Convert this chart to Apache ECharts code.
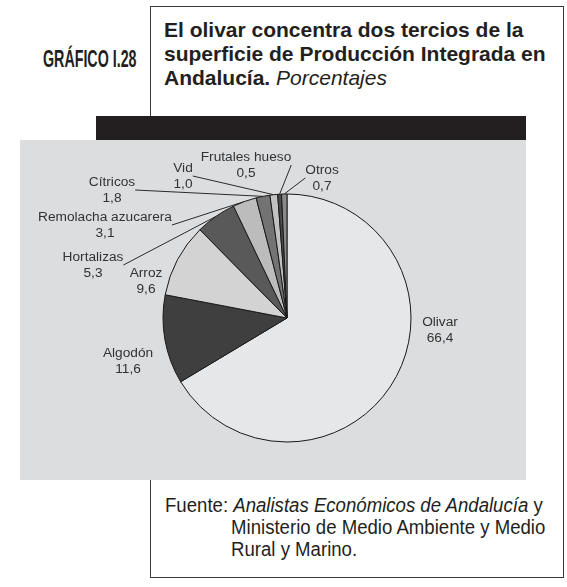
<html>
<head>
    <meta http-equiv="Content-Type" content="text/html; charset=utf-8" />
    <script src="https://cdn.jsdelivr.net/npm/echarts@6/dist/echarts.min.js"></script>
    <style>
        body {
            margin: 0;
            background: #ffffff;
            font-family: "Liberation Sans", Arial, sans-serif;
            color: #231f20;
        }

        .frame {
            position: absolute;
            left: 150px;
            top: 6px;
            width: 412px;
            height: 570px;
            border: 1.5px solid #3a3a3a;
        }

        .num {
            position: absolute;
            left: 43px;
            top: 47px;
            font-size: 23px;
            line-height: 24px;
            font-weight: bold;
            white-space: nowrap;
            transform: scaleX(0.62);
            transform-origin: left top;
        }

        .title {
            position: absolute;
            left: 164px;
            top: 18px;
            font-size: 21px;
            line-height: 24px;
            font-weight: bold;
            white-space: nowrap;
        }

        .title i {
            font-weight: normal;
        }

        .bar {
            position: absolute;
            left: 96px;
            top: 116px;
            width: 430px;
            height: 24px;
            background: #231f20;
        }

        #main {
            position: absolute;
            left: 20px;
            top: 140px;
            width: 506px;
            height: 340px;
        }

        .source {
            position: absolute;
            left: 165px;
            top: 494px;
            font-size: 20px;
            line-height: 22px;
            padding-left: 71px;
            text-indent: -71px;
            white-space: nowrap;
            transform: scaleX(0.93);
            transform-origin: left top;
        }
    </style>
    <title></title>
</head>
<body>
    <div class="frame"></div>
    <div class="num">GRÁFICO I.28</div>
    <div class="title">El olivar concentra dos tercios de la<br />superficie de Producción Integrada en<br />Andalucía. <i>Porcentajes</i></div>
    <div class="bar"></div>
    <div id="main"></div>
    <div class="source">Fuente: <i>Analistas Económicos de Andalucía</i> y<br />Ministerio de Medio Ambiente y Medio<br />Rural y Marino.</div>

    <script type="text/javascript">
        //datos
        var cultivos = ['Olivar', 'Algodón', 'Arroz', 'Hortalizas', 'Remolacha azucarera',
            'Cítricos', 'Vid', 'Frutales hueso', 'Otros'];
        var porcentajes = [66.4, 11.6, 9.6, 5.3, 3.1, 1.8, 1.0, 0.5, 0.7];

        //estilo de cada sector
        var colores = ['#e6e7e8', '#3f3f3f', '#d3d3d3', '#595959', '#bcbcbc',
            '#737373', '#c2c2c2', '#4a4a4a', '#8a8a8a'];
        var conLinea = [false, false, false, true, true, true, true, true, true];
        //centro de cada etiqueta (px dentro del grafico)
        var posEtiqueta = [[420, 190], [108, 221], [126, 141], [73, 125], [85, 85],
            [92, 50], [163, 36], [226, 25], [302, 38]];

        var datos = [];
        for (var i = 0; i < cultivos.length; i++) {
            datos.push({
                name: cultivos[i],
                value: porcentajes[i],
                itemStyle: { color: colores[i] },
                labelLine: { show: conLinea[i] }
            });
        }

        var option = {
            backgroundColor: '#dcddde',
            animation: false,
            series: [{
                type: 'pie',
                center: [267, 178],
                radius: 124,
                startAngle: 90,
                clockwise: true,
                data: datos,
                itemStyle: {
                    borderColor: '#1a1a1a',
                    borderWidth: 1
                },
                label: {
                    show: true,
                    position: 'outside',
                    overflow: 'none',
                    color: '#333333',
                    fontFamily: 'Liberation Sans',
                    fontSize: 13.7,
                    lineHeight: 15.5,
                    align: 'center',
                    formatter: function (p) {
                        return p.name + '\n' + p.value.toFixed(1).replace('.', ',');
                    }
                },
                labelLine: {
                    length: 0,
                    length2: 0,
                    lineStyle: { color: '#2a2a2a', width: 1 }
                },
                labelLayout: function (p) {
                    var pos = posEtiqueta[p.dataIndex];
                    return { x: pos[0], y: pos[1], align: 'center', verticalAlign: 'middle' };
                },
                emphasis: { disabled: true }
            }]
        };

        var myChart = echarts.init(document.getElementById('main'));
        myChart.setOption(option);
    </script>
</body>
</html>
